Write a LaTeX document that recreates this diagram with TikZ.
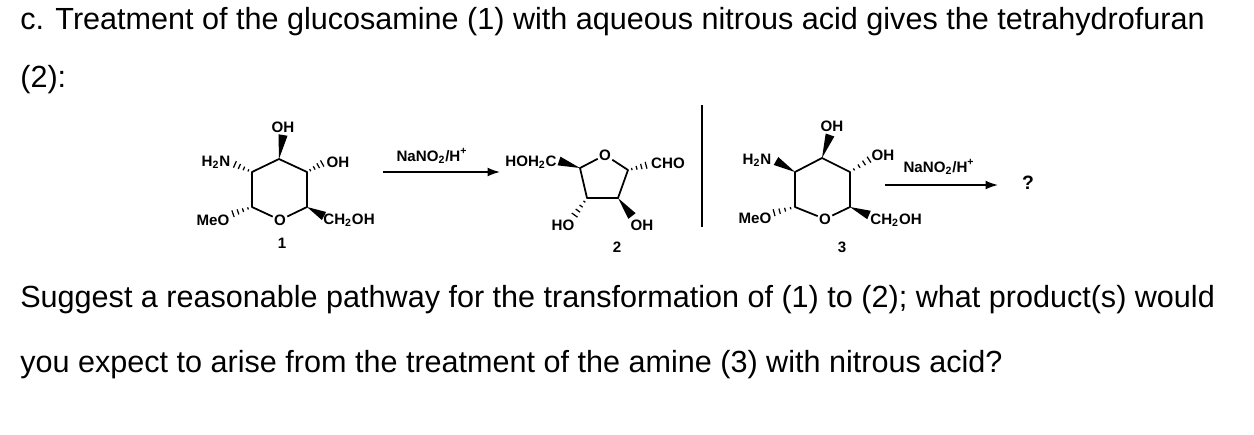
\documentclass[tikz,border=0pt]{standalone}
\usepackage{fontspec}
\setmainfont{Liberation Sans}
\usetikzlibrary{calc,arrows.meta}
\newcommand\wdg[2]{\fill (#1) -- ($(#2)!2.6pt!90:(#1)$) -- ($(#2)!2.6pt!-90:(#1)$) -- cycle;}
\newcommand\hsh[2]{\foreach \t in {0.2,0.45,0.7,0.95}{\coordinate (hh) at ($(#1)!\t!(#2)$); \draw[line width=0.7pt] ($(hh)!{\t*1.8pt+0.3pt}!90:(#2)$) -- ($(hh)!{\t*1.8pt+0.3pt}!-90:(#2)$);}}
\tikzset{txt/.style={anchor=west,inner sep=0pt,font=\fontsize{17.4}{20}\selectfont},
 lab/.style={inner sep=0.6pt,font=\fontsize{8.6}{10}\selectfont\bfseries},
 bond/.style={line width=1pt},
 rxn/.style={line width=0.9pt,-{Latex[length=7pt,width=5pt]}}}
\begin{document}
\begin{tikzpicture}[x=0.02cm,y=-0.02cm]
\useasboundingbox (0,0) rectangle (1254,434);
\node[txt] (t1) at (20,22) {c. Treatment of the glucosamine (1) with aqueous nitrous acid gives the tetrahydrofuran};
\node[txt] (t2) at (20,80) {(2):};
\node[txt] (t3) at (20,300) {Suggest a reasonable pathway for the transformation of (1) to (2); what product(s) would};
\node[txt] (t4) at (20,365) {you expect to arise from the treatment of the amine (3) with nitrous acid?};
% ---- structure 1
\coordinate (a3) at (279,159); \coordinate (a2) at (252,172); \coordinate (a1) at (252,207);
\node[lab] (aO) at (280,220) {O};
\coordinate (a5) at (307,207); \coordinate (a4) at (307,172);
\draw[bond,line join=round] (aO) -- (a1) -- (a2) -- (a3) -- (a4) -- (a5) -- (aO);
\node[lab] (aOH) at (283,127) {OH};
\node[lab] (aN) at (216,162) {H\textsubscript{2}N};
\node[lab] (aOH2) at (338,162) {OH};
\node[lab] (aMe) at (213,220) {MeO};
\node[lab,anchor=west] (aCH) at (322,220) {CH\textsubscript{2}OH};
\coordinate (aw1) at (283,135); \wdg{a3}{aw1}
\coordinate (ah1) at (234,164); \hsh{a2}{ah1}
\coordinate (ah2) at (323,163); \hsh{a4}{ah2}
\coordinate (ah3) at (232,214); \hsh{a1}{ah3}
\coordinate (aw2) at (324,216); \wdg{a5}{aw2}
\node[lab] (n1) at (282,243) {1};
\coordinate (r1s) at (383,172); \coordinate (r1e) at (500,172);
\draw[rxn] (r1s) -- (r1e);
\node[lab] (r1l) at (432,156) {NaNO\textsubscript{2}/H\textsuperscript{+}};
% ---- structure 2
\coordinate (b4) at (580,168); \node[lab] (bO) at (605,155) {O};
\coordinate (b1) at (628,170); \coordinate (b2) at (618,198); \coordinate (b3) at (587,198);
\draw[bond,line join=round] (bO) -- (b1) -- (b2) -- (b3) -- (b4) -- (bO);
\node[lab] (bH) at (531,162) {HOH\textsubscript{2}C};
\coordinate (bw1) at (559,161); \wdg{b4}{bw1}
\node[lab] (bCHO) at (668,163) {CHO};
\coordinate (bh1) at (647,165); \hsh{b1}{bh1}
\node[lab] (bHO) at (563,225) {HO};
\coordinate (bh2) at (574,216); \hsh{b3}{bh2}
\node[lab] (bOH) at (642,225) {OH};
\coordinate (bw2) at (632,216); \wdg{b2}{bw2}
\node[lab] (n2) at (617,247) {2};
\coordinate (vt) at (702,105); \coordinate (vb) at (702,227);
\draw[line width=1pt] (vt) -- (vb);
% ---- structure 3
\coordinate (c3) at (822,158); \coordinate (c2) at (795,172); \coordinate (c1) at (795,207);
\node[lab] (cO) at (825,219) {O};
\coordinate (c5) at (850,207); \coordinate (c4) at (850,172);
\draw[bond,line join=round] (cO) -- (c1) -- (c2) -- (c3) -- (c4) -- (c5) -- (cO);
\node[lab] (cOH) at (832,126) {OH};
\coordinate (cw1) at (830,135); \wdg{c3}{cw1}
\node[lab] (cN) at (757,160) {H\textsubscript{2}N};
\coordinate (cw2) at (776,161); \wdg{c2}{cw2}
\node[lab] (cOH2) at (883,155) {OH};
\coordinate (ch1) at (870,159); \hsh{c4}{ch1}
\node[lab] (cMe) at (755,218) {MeO};
\coordinate (ch2) at (773,213); \hsh{c1}{ch2}
\node[lab,anchor=west] (cCH) at (869,220) {CH\textsubscript{2}OH};
\coordinate (cw3) at (869,215); \wdg{c5}{cw3}
\node[lab] (n3) at (842,247) {3};
\node[lab] (r2l) at (939,167) {NaNO\textsubscript{2}/H\textsuperscript{+}};
\coordinate (r2s) at (885,185); \coordinate (r2e) at (998,185);
\draw[rxn] (r2s) -- (r2e);
\node[lab,font=\fontsize{11}{12}\selectfont\bfseries] (q) at (1028,183) {?};
\end{tikzpicture}
\end{document}
